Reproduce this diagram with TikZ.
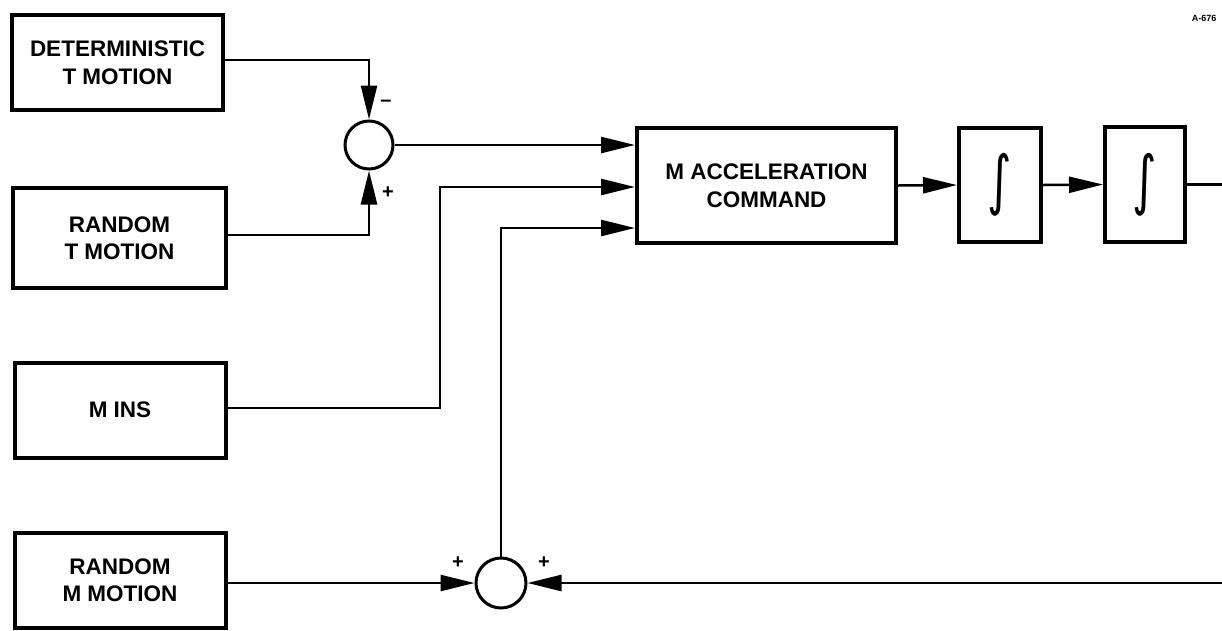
\documentclass[tikz,border=0pt]{standalone}
\usepackage{fontspec}
\setmainfont{Liberation Sans}
\newfontfamily\symf{DejaVu Sans}
\usetikzlibrary{arrows.meta,calc}
\begin{document}
\begin{tikzpicture}[x=1pt,y=-1pt,
  box/.style={draw,line width=4pt,fill=white,align=center,inner sep=0pt,
    font=\fontsize{22.5}{27.5}\selectfont\bfseries},
  sumj/.style={draw,circle,line width=3pt,minimum size=48pt,inner sep=0pt},
  conn/.style={line width=2.5pt},
  arr/.style={conn,-{Triangle[length=34pt,width=16pt]}},
  sgn/.style={font=\fontsize{20}{20}\selectfont\bfseries,inner sep=0pt},
  intg/.style={font=\fontsize{52}{52}\selectfont\symf,inner sep=0pt}]
\useasboundingbox (0,0) rectangle (1222,630);
\node[box,minimum width=211pt,minimum height=95pt] (det) at (117.5,62.5) {DETERMINISTIC\\T MOTION};
\node[box,minimum width=213pt,minimum height=100pt] (rndt) at (119.5,238) {RANDOM\\T MOTION};
\node[box,minimum width=211pt,minimum height=95pt] (mins) at (120,410) {M INS};
\node[box,minimum width=211pt,minimum height=95pt] (rndm) at (120,580) {RANDOM\\M MOTION};
\node[sumj] (s1) at (369,145) {};
\node[sumj,minimum size=50pt] (s2) at (501,583) {};
\node[box,minimum width=259pt,minimum height=115pt] (acc) at (766.5,185.5) {M ACCELERATION\\COMMAND};
\node[box,minimum width=82pt,minimum height=114pt] (i1) at (1000,185) {};
\node[intg] (g1) at (i1) {\scalebox{0.9}[1.25]{∫}};
\node[box,minimum width=80pt,minimum height=115pt] (i2) at (1145,184.5) {};
\node[intg] (g2) at (i2) {\scalebox{0.9}[1.25]{∫}};
\coordinate (fb) at (1240,0);
\coordinate (in1) at (0,145);
\coordinate (in2) at (0,187);
\coordinate (in3) at (0,228);
\coordinate (minsx) at (440,0);
% top summing junction
\draw[arr] (det.east |- 0,60) -| (s1.north);
\draw[arr] (rndt.east |- 0,235) -| (s1.south);
\node[sgn] at (386,103) {\textendash};
\node[sgn] at (388,193) {+};
% into acceleration command
\draw[arr] (s1.east) -- (acc.west |- in1);
\draw[arr] (mins.east |- 0,408) -| (minsx |- in2) -- (acc.west |- in2);
\draw[arr] (s2.north) -- (s2.north |- in3) -- (acc.west |- in3);
% forward chain
\draw[arr] (acc.east) -- (i1.west);
\draw[arr] (i1.east) -- (i2.west);
% feedback
\draw[arr] (i2.east) -| (fb |- s2.east) -- (s2.east);
\draw[arr] (rndm.east |- s2.west) -- (s2.west);
\node[sgn] at (458,563) {+};
\node[sgn] at (544,563) {+};
\node[font=\fontsize{9}{9}\selectfont\bfseries] (lbl) at (1204,18) {A-676};
\end{tikzpicture}
\end{document}
